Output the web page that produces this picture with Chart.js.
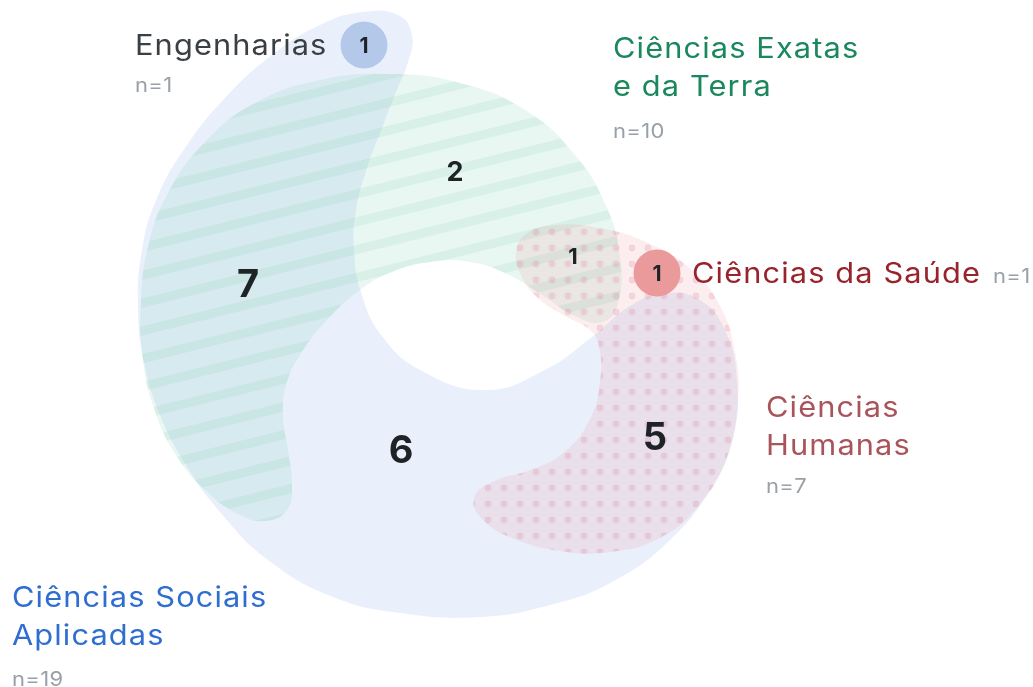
<!DOCTYPE html>
<html>
<head>
<meta charset="utf-8">
<script src="https://cdn.jsdelivr.net/npm/chart.js@4.4.1/dist/chart.umd.min.js"></script>
<style>
  html, body { margin: 0; padding: 0; background: #fff; }
  #wrap { width: 1033px; height: 687px; }
</style>
</head>
<body>
<div id="wrap"><canvas id="venn" width="1033" height="687"></canvas></div>
<script>
const CANVAS_W = 1033;
const CANVAS_H = 687;

// ---------------------------------------------------------------------------
// data: fields (sets) with their totals, and the count inside each region
// ---------------------------------------------------------------------------
const areaNames = ["Ciências Sociais Aplicadas", "Ciências Exatas e da Terra", "Ciências Humanas", "Engenharias", "Ciências da Saúde"];
const areaTotals = [19, 10, 7, 1, 1];

const regionNames = ["Sociais Aplicadas", "Sociais ∩ Exatas", "Exatas", "Exatas ∩ Humanas", "Sociais ∩ Humanas", "Sociais ∩ Engenharias", "Humanas ∩ Saúde"];
const regionCounts = [6, 7, 2, 1, 5, 1, 1];

// ---------------------------------------------------------------------------
// layout (in axis units, the hidden axes span the whole canvas)
// ---------------------------------------------------------------------------
// blob outlines, smoothed by the line tension
const outlineSociais = [
  [138, 310], [142, 250], [157, 198], [185, 148], [225, 98], [272, 55], [320, 25], [362, 12], [398, 15],
  [412, 35], [408, 62], [396, 92], [382, 128], [367, 168], [356, 210], [354, 250], [361, 292], [382, 336],
  [422, 371], [485, 390], [543, 371], [592, 337], [630, 306], [665, 293], [700, 300], [725, 330], [737, 380],
  [733, 438], [712, 487], [670, 540], [612, 582], [550, 605], [480, 617], [400, 613], [333, 597], [268, 560],
  [220, 512], [184, 462], [158, 410], [144, 362],
];
const outlineExatas = [
  [141, 300], [149, 243], [168, 193], [204, 143], [255, 103], [320, 80], [390, 74], [460, 83], [525, 110],
  [575, 155], [607, 208], [620, 258], [618, 303], [603, 322], [575, 316], [542, 295], [507, 274], [470, 262],
  [430, 262], [392, 272], [360, 290], [327, 320], [302, 352], [287, 382], [283, 415], [288, 450], [292, 485],
  [287, 510], [266, 521], [240, 515], [205, 490], [174, 452], [154, 408], [143, 360],
];
const outlineHumanas = [
  [738, 400], [727, 457], [700, 504], [660, 538], [610, 552], [560, 551], [512, 538], [482, 519], [474, 498],
  [492, 482], [530, 470], [563, 453], [589, 421], [600, 382], [599, 347], [590, 330], [565, 316], [538, 298],
  [522, 277], [516, 253], [526, 234], [555, 225], [600, 228], [648, 243], [692, 270], [720, 306], [735, 352],
];

// badges for the single-member fields
const badgeX = [364, 657];
const badgeY = [45, 273];
const badgeColors = ["#b4c8ea", "#ea9a9a"];

// where the region counts are written
const regionLabelX = [401, 248, 455, 573, 655, 364, 657];
const regionLabelY = [449, 283, 171, 256, 436, 45, 273];
const regionLabelSize = [38, 38, 27, 22, 38, 21, 21];

// field titles
const titleLayout = [
  { lines: ["Ciências Sociais", "Aplicadas"], x: 12, y: 607, color: "#2f6ed1", nx: 12, ny: 686 },
  { lines: ["Ciências Exatas", "e da Terra"], x: 613, y: 58, color: "#1b875d", nx: 613, ny: 138 },
  { lines: ["Ciências", "Humanas"], x: 766, y: 417, color: "#a9545a", nx: 766, ny: 493 },
  { lines: ["Engenharias"], x: 135, y: 55, color: "#3a3f44", nx: 135, ny: 92 },
  { lines: ["Ciências da Saúde"], x: 692, y: 283, color: "#99232b", nx: 993, ny: 283 },
];

const FONT = "Inter, 'Open Sans', sans-serif";
const STRETCH = 1.1; // the titles use a wide face, Inter is narrower

// ---------------------------------------------------------------------------
// fill patterns
// ---------------------------------------------------------------------------
function stripePattern(base, stripe, period, thick, angle) {
  const c = document.createElement("canvas");
  c.width = period; c.height = period;
  const g = c.getContext("2d");
  g.fillStyle = base;
  g.fillRect(0, thick, period, period - thick);
  g.fillStyle = stripe;
  g.fillRect(0, 0, period, thick);
  const p = g.createPattern(c, "repeat");
  p.setTransform(new DOMMatrix().rotate(angle));
  return p;
}

function dotPattern(base, dot, step, r) {
  const c = document.createElement("canvas");
  c.width = step; c.height = step;
  const g = c.getContext("2d");
  g.fillStyle = base;
  g.fillRect(0, 0, step, step);
  g.fillStyle = dot;
  g.beginPath();
  g.arc(step / 2, step / 2, r, 0, Math.PI * 2);
  g.fill();
  return g.createPattern(c, "repeat");
}

// wrap the outline so the spline closes smoothly
function closedOutline(pts) {
  const n = pts.length;
  return [pts[n - 1], ...pts, pts[0], pts[1]].map(([x, y]) => ({ x, y }));
}

function wideText(ctx, text, x, y) {
  ctx.save();
  ctx.translate(x, y);
  ctx.scale(STRETCH, 1);
  ctx.fillText(text, 0, 0);
  ctx.restore();
}

// ---------------------------------------------------------------------------
// text plugin: counts, titles and n=
// ---------------------------------------------------------------------------
const vennLabels = {
  id: "vennLabels",
  afterDatasetsDraw(chart) {
    const ctx = chart.ctx;
    const xs = chart.scales.x, ys = chart.scales.y;
    ctx.save();
    ctx.textAlign = "center";
    ctx.textBaseline = "alphabetic";
    ctx.fillStyle = "#1e2326";
    regionCounts.forEach((v, i) => {
      const size = regionLabelSize[i];
      ctx.font = `700 ${size}px ${FONT}`;
      ctx.fillText(String(v), xs.getPixelForValue(regionLabelX[i]), ys.getPixelForValue(regionLabelY[i]) + size * 0.36);
    });

    ctx.textAlign = "left";
    titleLayout.forEach((t, i) => {
      ctx.font = `400 28px ${FONT}`;
      ctx.letterSpacing = "1px";
      ctx.fillStyle = t.color;
      t.lines.forEach((line, k) => {
        wideText(ctx, line, xs.getPixelForValue(t.x), ys.getPixelForValue(t.y + k * 38));
      });
      ctx.font = `400 20px ${FONT}`;
      ctx.letterSpacing = "0.3px";
      ctx.fillStyle = "#98a0a8";
      wideText(ctx, "n=" + areaTotals[i], xs.getPixelForValue(t.nx), ys.getPixelForValue(t.ny));
    });
    ctx.restore();
  },
};

// ---------------------------------------------------------------------------
// chart
// ---------------------------------------------------------------------------
const canvas = document.getElementById("venn");
const ctx = canvas.getContext("2d");

const sociaisFill = "#eaf0fb";
const exatasFill = stripePattern("rgba(110,200,165,0.15)", "rgba(110,200,165,0.27)", 27, 9, -14);
const humanasFill = dotPattern("rgba(235,150,160,0.17)", "rgba(215,120,145,0.22)", 16, 3.4);

const blob = (data, fill, order) => ({
  data: closedOutline(data),
  backgroundColor: fill,
  borderWidth: 0,
  borderColor: "rgba(0,0,0,0)",
  pointRadius: 0,
  tension: 0.45,
  fill: "shape",
  order,
});

new Chart(ctx, {
  type: "line",
  data: {
    datasets: [
      blob(outlineSociais, sociaisFill, 3),
      blob(outlineExatas, exatasFill, 2),
      blob(outlineHumanas, humanasFill, 1),
      {
        data: badgeX.map((x, i) => ({ x, y: badgeY[i] })),
        showLine: false,
        pointRadius: 23.5,
        pointBackgroundColor: badgeColors,
        pointBorderWidth: 0,
        order: 0,
      },
    ],
  },
  options: {
    responsive: false,
    animation: false,
    events: [],
    layout: { padding: 0, autoPadding: false },
    plugins: { legend: { display: false }, tooltip: { enabled: false } },
    scales: {
      x: { type: "linear", min: 0, max: CANVAS_W, display: false },
      y: { type: "linear", min: 0, max: CANVAS_H, reverse: true, display: false },
    },
  },
  plugins: [vennLabels],
});
</script>
</body>
</html>
